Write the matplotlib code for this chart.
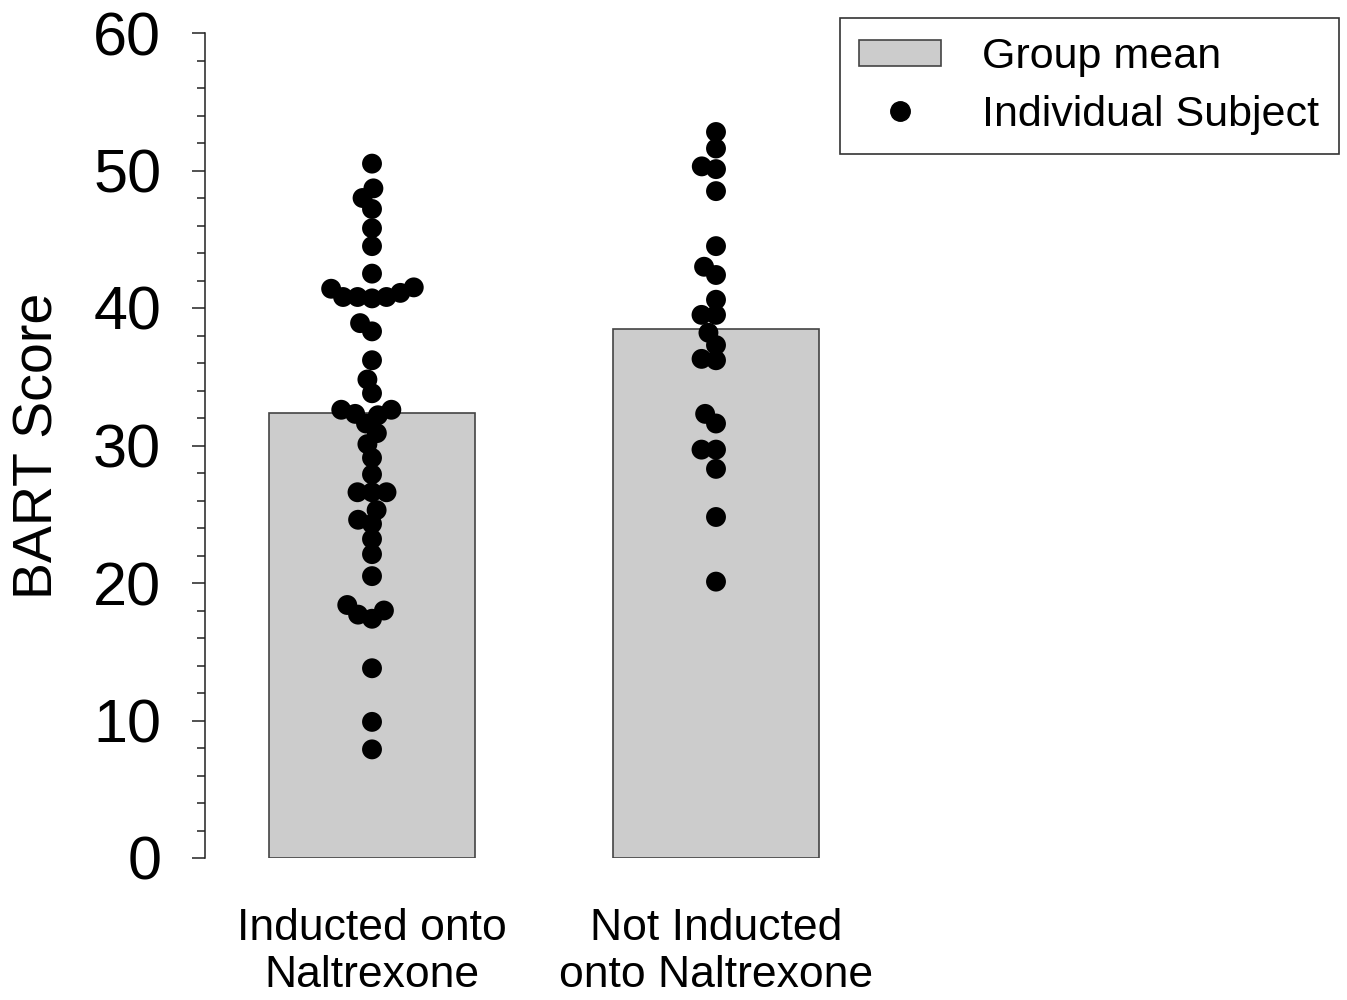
import numpy as np
import matplotlib
matplotlib.use("Agg")
import matplotlib.pyplot as plt
from matplotlib.patches import Patch
from matplotlib.lines import Line2D
from matplotlib.ticker import MultipleLocator

plt.rcParams['font.family'] = ['Liberation Sans', 'DejaVu Sans']

# data
groups = ["Inducted onto\nNaltrexone", "Not Inducted\nonto Naltrexone"]
group_means = [32.4, 38.5]
inducted = [50.5, 48.7, 48.0, 47.2, 45.8, 44.5, 42.5,
            40.8, 40.8, 40.8, 40.7, 41.1, 41.4, 41.5,
            38.9, 38.3, 36.2, 34.8, 33.8,
            32.6, 32.3, 31.6, 32.2, 32.6,
            30.9, 30.1, 29.1, 27.9, 26.6, 26.6, 26.6,
            25.3, 24.3, 24.6, 23.2, 22.1, 20.5,
            18.4, 17.7, 17.4, 18.0, 13.8, 9.9, 7.9]
not_inducted = [52.8, 51.6, 50.3, 50.1, 48.5, 44.5, 43.0, 42.4,
                40.6, 39.5, 39.5, 38.2, 37.3, 36.2, 36.3,
                32.3, 31.6, 29.7, 29.7, 28.3, 24.8, 20.1]
subjects = [inducted, not_inducted]


def swarm_offsets(vals, y_scale, mind):
    # simple beeswarm in pixel space, returns x offsets in pixels
    ys = np.asarray(vals) * y_scale
    xs = np.zeros(len(ys))
    placed = []
    for i in np.argsort(ys):
        y = ys[i]
        cands = [0.0]
        for px, py in placed:
            dy = abs(py - y)
            if dy < mind:
                dx = np.sqrt(mind ** 2 - dy ** 2)
                cands += [px - dx, px + dx]
        cands.sort(key=lambda c: (abs(c), c))
        for c in cands:
            if all((c - px) ** 2 + (y - py) ** 2 >= mind ** 2 - 1e-6 for px, py in placed):
                xs[i] = c
                break
        placed.append((xs[i], y))
    return xs


fig = plt.figure(figsize=(13.47, 10), dpi=100)
ax = fig.add_axes([205 / 1347, 0.142, (1340 - 205) / 1347, 0.825])

pos = np.arange(1, len(groups) + 1)
ax.bar(pos, group_means, width=0.6, color="#cccccc", edgecolor="#444444", linewidth=1.2, zorder=1)

ax.set_xlim(0.5145, 3.814)
ax.set_ylim(0, 60)

p0 = ax.transData.transform((0, 0))
p1 = ax.transData.transform((1, 1))
x_scale = p1[0] - p0[0]
y_scale = p1[1] - p0[1]

for x0, vals in zip(pos, subjects):
    off = swarm_offsets(vals, y_scale, 14.5)
    ax.scatter(x0 + off / x_scale, vals, s=205, color="black", edgecolors="none", zorder=3, clip_on=False)

for side in ["top", "right", "bottom"]:
    ax.spines[side].set_visible(False)
ax.spines["left"].set_color("#222222")
ax.spines["left"].set_linewidth(1.1)

ax.yaxis.set_major_locator(MultipleLocator(10))
ax.yaxis.set_minor_locator(MultipleLocator(2))
ax.tick_params(axis="y", which="major", length=9.5, width=1.1, color="#222222", labelsize=44, pad=22)
ax.tick_params(axis="y", which="minor", length=5.8, width=1.1, color="#222222")
ax.set_xticks(pos)
ax.set_xticklabels(groups, fontsize=32, linespacing=1.2)
ax.tick_params(axis="x", length=0, pad=36)

ax.set_ylabel("BART Score", fontsize=40)
ax.yaxis.set_label_coords(-0.124, 0.5)

handles = [Patch(facecolor="#cccccc", edgecolor="#444444", linewidth=1.2),
           Line2D([], [], marker="o", linestyle="none", color="black", markersize=14)]
leg = fig.legend(handles, ["Group mean", "Individual Subject"],
                 loc="upper left", bbox_to_anchor=(840 / 1347, 1 - 18 / 1000),
                 fontsize=31, frameon=True, fancybox=False, edgecolor="black",
                 handlelength=1.9, handleheight=0.57, handletextpad=0.95,
                 labelspacing=0.4, borderpad=0.45, borderaxespad=0)
leg.get_frame().set_linewidth(1.2)

fig.savefig("out.png", dpi=100)
